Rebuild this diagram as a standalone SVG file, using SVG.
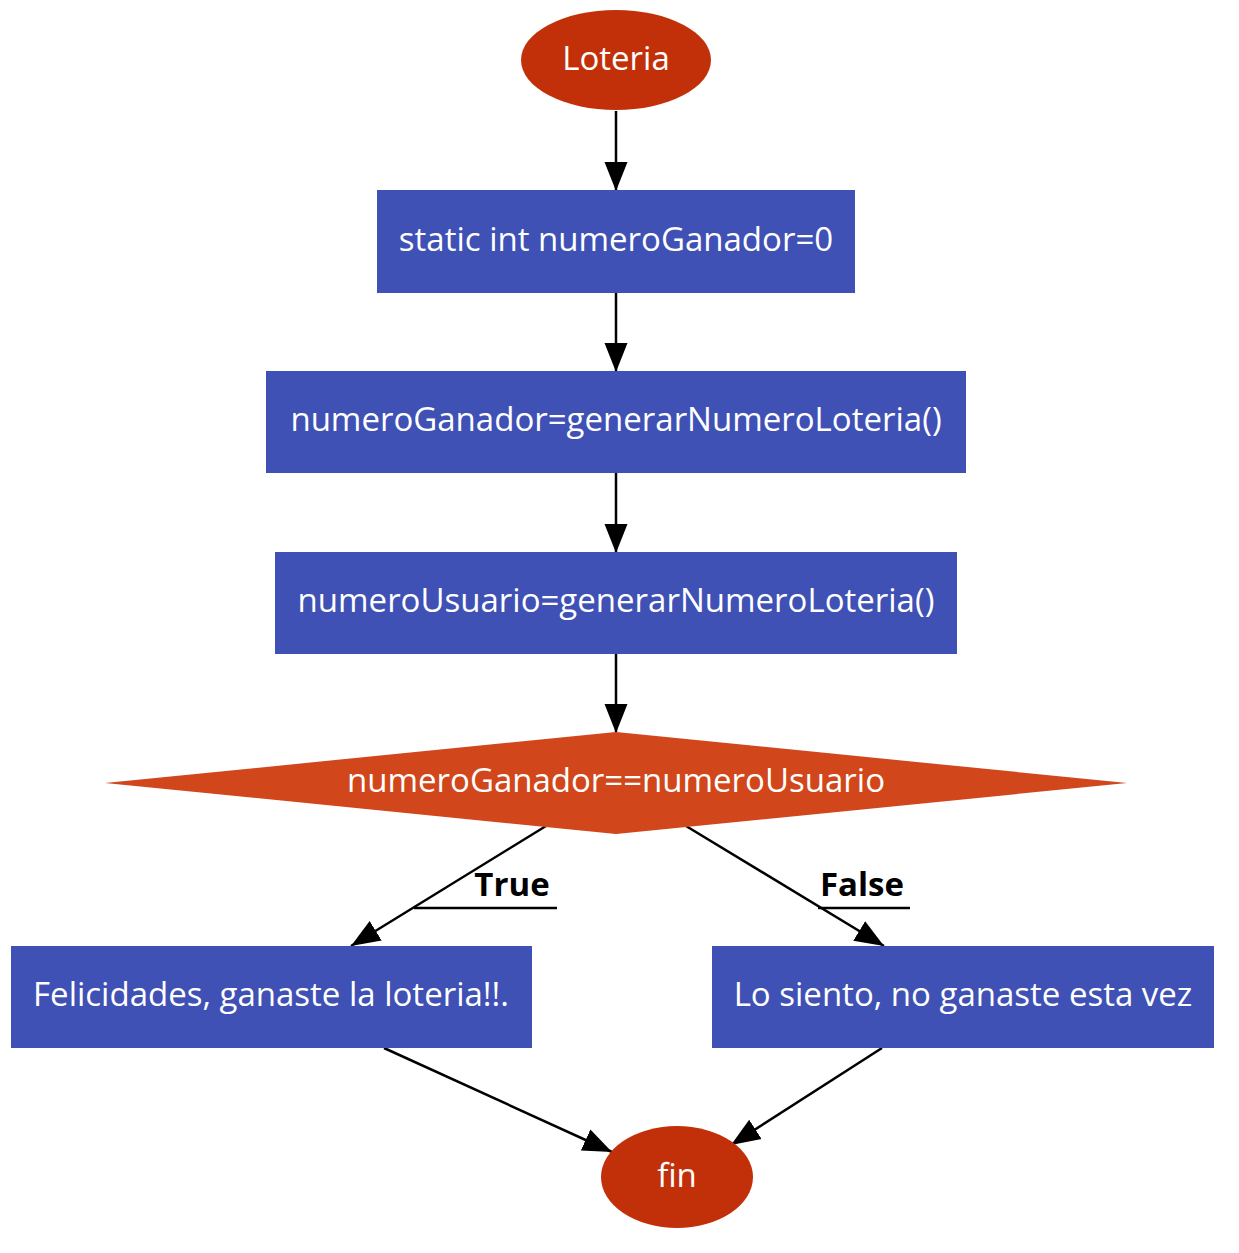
<svg xmlns="http://www.w3.org/2000/svg" width="1239" height="1253" viewBox="0 0 1239 1253">
<defs>
<marker id="ah" markerWidth="29" markerHeight="24" refX="29" refY="12" orient="auto" markerUnits="userSpaceOnUse">
<path d="M0,0.5 L29,12 L0,23.5 Z" fill="#000"/>
</marker>
<style>
.term{fill:#c2300a}
.proc{fill:#3f51b5}
.dec{fill:#d1471b}
.t{font-family:"Open Sans","Noto Sans",sans-serif;font-size:33px;fill:#fff;text-anchor:middle}
.lbl{font-family:"Open Sans","Noto Sans",sans-serif;font-size:33px;font-weight:bold;fill:#000;text-anchor:middle}
.e{stroke:#000;stroke-width:2.5;fill:none}
</style>
</defs>
<rect width="1239" height="1253" fill="#fff"/>
<g id="connectors">
<line class="e" x1="616" y1="111" x2="616" y2="191" marker-end="url(#ah)"/>
<line class="e" x1="616" y1="293" x2="616" y2="372" marker-end="url(#ah)"/>
<line class="e" x1="616" y1="473" x2="616" y2="553" marker-end="url(#ah)"/>
<line class="e" x1="616" y1="654" x2="616" y2="733" marker-end="url(#ah)"/>
<line class="e" x1="546" y1="826" x2="351" y2="946" marker-end="url(#ah)"/>
<line class="e" x1="414" y1="908" x2="557" y2="908"/>
<text class="lbl" x="512" y="896">True</text>
<line class="e" x1="686" y1="826" x2="884" y2="946" marker-end="url(#ah)"/>
<line class="e" x1="818" y1="908" x2="910" y2="908"/>
<text class="lbl" x="862" y="896">False</text>
<line class="e" x1="384" y1="1048" x2="612" y2="1152" marker-end="url(#ah)"/>
<line class="e" x1="882" y1="1048" x2="731" y2="1145" marker-end="url(#ah)"/>
</g>
<g id="n_loteria"><ellipse class="term" cx="616" cy="60" rx="95" ry="50"/><text class="t" x="616" y="70">Loteria</text></g>
<g id="n_static"><rect class="proc" x="377" y="190" width="478" height="103"/><text class="t" x="616" y="251">static int numeroGanador=0</text></g>
<g id="n_gen1"><rect class="proc" x="266" y="371" width="700" height="102"/><text class="t" x="616" y="431">numeroGanador=generarNumeroLoteria()</text></g>
<g id="n_gen2"><rect class="proc" x="275" y="552" width="682" height="102"/><text class="t" x="616" y="612">numeroUsuario=generarNumeroLoteria()</text></g>
<g id="n_dec"><polygon class="dec" points="616,732 1127,783 616,834 105,783"/><text class="t" x="616" y="792">numeroGanador==numeroUsuario</text></g>
<g id="n_true"><rect class="proc" x="11" y="946" width="521" height="102"/><text class="t" x="271" y="1006">Felicidades, ganaste la loteria!!.</text></g>
<g id="n_false"><rect class="proc" x="712" y="946" width="502" height="102"/><text class="t" x="963" y="1006">Lo siento, no ganaste esta vez</text></g>
<g id="n_fin"><ellipse class="term" cx="677" cy="1177" rx="76" ry="51"/><text class="t" x="677" y="1187">fin</text></g>
</svg>
